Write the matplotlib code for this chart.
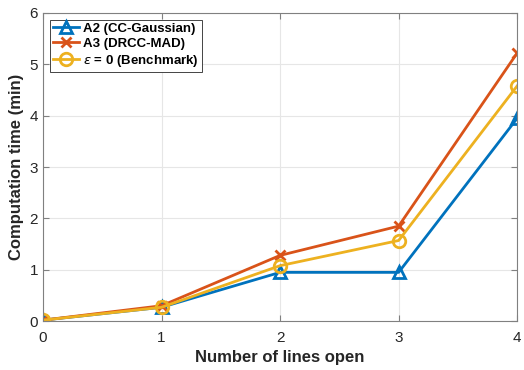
import matplotlib
matplotlib.use("Agg")
from matplotlib import pyplot as plt

plt.rcParams['font.family'] = ['Liberation Sans', 'DejaVu Sans']

lines_open = [0, 1, 2, 3, 4]
cc_gaussian = [0.02, 0.27, 0.95, 0.95, 3.95]
drcc_mad = [0.02, 0.30, 1.28, 1.85, 5.22]
benchmark = [0.02, 0.27, 1.08, 1.57, 4.58]

blue = (0, 0.447, 0.741)
red = (0.85, 0.325, 0.098)
yellow = (0.929, 0.694, 0.125)

fig = plt.figure(figsize=(5.24, 3.70), dpi=100)
ax = fig.add_axes([0.082, 0.132, 0.905, 0.833])

ax.plot(lines_open, cc_gaussian, '-^', color=blue, lw=2, ms=9, mfc='none', mew=2,
        label='A2 (CC-Gaussian)')
ax.plot(lines_open, drcc_mad, '-x', color=red, lw=2, ms=7, mew=2,
        label='A3 (DRCC-MAD)')
ax.plot(lines_open, benchmark, '-o', color=yellow, lw=2, ms=9, mfc='none', mew=2,
        label=r'$\epsilon$ = 0 (Benchmark)')

ax.set_xlim(0, 4)
ax.set_ylim(0, 6)
ax.set_xticks(range(5))
ax.set_yticks(range(7))
ax.grid(True, color='#e6e6e6', lw=0.8)
ax.set_axisbelow(True)
for s in ax.spines.values():
    s.set_color('#808080')
ax.tick_params(direction='in', colors='#262626', labelsize=11, length=4,
               color='#808080', top=True, right=True)
ax.tick_params(axis='x', pad=7)

ax.set_xlabel('Number of lines open', fontsize=12, fontweight='bold', color='#262626')
ax.set_ylabel('Computation time (min)', fontsize=12, fontweight='bold', color='#262626')

leg = ax.legend(loc='upper left', prop={'weight': 'bold', 'size': 9.5},
                fancybox=False, edgecolor='#262626', framealpha=1,
                handlelength=2.0, handletextpad=0.3, borderpad=0.25,
                labelspacing=0.2, borderaxespad=0.5)
leg.get_frame().set_linewidth(0.6)

fig.savefig('out.png', dpi=100)
